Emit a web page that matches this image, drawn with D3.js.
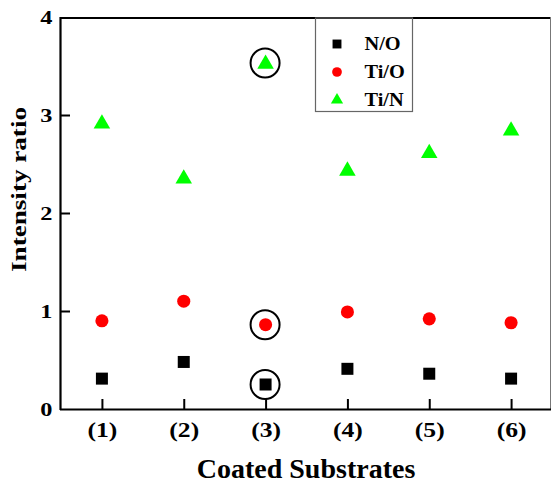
<!DOCTYPE html>
<html>
<head>
<meta charset="utf-8">
<script src="https://cdn.jsdelivr.net/npm/d3@7/dist/d3.min.js"></script>
<style>
  html, body { margin: 0; padding: 0; background: #fff; }
  svg { display: block; }
</style>
</head>
<body>
<svg id="chart" width="552" height="486"></svg>
<script>
// Coated substrate samples (1)–(6)
const substrates = ["(1)", "(2)", "(3)", "(4)", "(5)", "(6)"];
// Intensity ratios per substrate
const ratioNO  = [0.31, 0.48, 0.25, 0.41, 0.36, 0.31];
const ratioTiO = [0.90, 1.10, 0.86, 0.99, 0.92, 0.88];
const ratioTiN = [2.91, 2.35, 3.52, 2.43, 2.61, 2.84];
const yTicks = [0, 1, 2, 3, 4];
// Sample whose points are ringed
const highlighted = 2;

const series = [
  { name: "N/O",  values: ratioNO,  color: "#000000", shape: d3.symbolSquare,   size: 144 },
  { name: "Ti/O", values: ratioTiO, color: "#ff0000", shape: d3.symbolCircle,   size: 135 },
  { name: "Ti/N", values: ratioTiN, color: "#00ff00", shape: d3.symbolTriangle, size: 118 }
];

const FONT = "'Liberation Serif', 'Times New Roman', serif";
const svg = d3.select("#chart");
const plotLeft = 61, plotRight = 552, plotTop = 17, plotBottom = 409;

const x = d3.scaleLinear().domain([0.5, 6.5]).range([plotLeft, plotRight]);
const y = d3.scaleLinear().domain([0, 4]).range([plotBottom, plotTop]);

// Widen a text element horizontally by a factor
function widen(sel, k) {
  sel.each(function () {
    const w = this.getComputedTextLength();
    d3.select(this).attr("textLength", w * k).attr("lengthAdjust", "spacingAndGlyphs");
  });
}
function styleText(sel, size) {
  sel.style("font-family", FONT).style("font-weight", "bold")
    .attr("font-size", size).attr("fill", "#000");
}

// Frame: top and right edges
svg.append("line").attr("x1", plotLeft).attr("x2", 551).attr("y1", plotTop + 1).attr("y2", plotTop + 1)
  .attr("stroke", "#000").attr("stroke-width", 2);
svg.append("line").attr("x1", 550.5).attr("x2", 550.5).attr("y1", plotTop).attr("y2", plotBottom)
  .attr("stroke", "#777").attr("stroke-width", 1);

// Bottom axis with inward ticks
const xAxis = d3.axisBottom(x)
  .tickValues(substrates.map((d, i) => i + 1))
  .tickFormat((d, i) => substrates[i])
  .tickSizeInner(-10).tickSizeOuter(0);
const gx = svg.append("g").attr("transform", `translate(0,${plotBottom})`).call(xAxis);
gx.select(".domain").attr("stroke", "#000").attr("stroke-width", 2.2)
  .attr("d", `M${plotLeft - 1},0.5H${551}`);
gx.selectAll(".tick line").attr("stroke", "#000").attr("stroke-width", 2);
gx.selectAll(".tick text").attr("y", 27.5).attr("dy", null).call(styleText, 20).call(widen, 1.28);

// Left axis with inward ticks
const yAxis = d3.axisLeft(y).tickValues(yTicks).tickFormat(d3.format("d"))
  .tickSizeInner(-9).tickSizeOuter(0);
const gy = svg.append("g").attr("transform", `translate(${plotLeft},0)`).call(yAxis);
gy.select(".domain").attr("stroke", "#000").attr("stroke-width", 2.2)
  .attr("d", `M-0.5,${plotTop}V${plotBottom + 1}`);
gy.selectAll(".tick line").attr("stroke", "#000").attr("stroke-width", 2)
  .filter(d => d === 0 || d === 4).remove();
gy.selectAll(".tick text").attr("x", -8.5).attr("y", 6).attr("dy", null)
  .call(styleText, 19).call(widen, 1.28);

// Axis titles
svg.append("text").attr("x", 306).attr("y", 478)
  .attr("text-anchor", "middle").call(styleText, 28).text("Coated Substrates");
svg.append("text").attr("transform", "translate(26,189.5) rotate(-90)")
  .attr("text-anchor", "middle").call(styleText, 21).text("Intensity ratio")
  .attr("textLength", 165).attr("lengthAdjust", "spacingAndGlyphs");

// Data markers
series.forEach(s => {
  const sym = d3.symbol().type(s.shape).size(s.size);
  svg.append("g").selectAll("path").data(s.values).join("path")
    .attr("d", sym)
    .attr("transform", (d, i) => `translate(${x(i + 1)},${y(d)})`)
    .attr("fill", s.color);
});

// Rings around sample (3)
series.forEach(s => {
  svg.append("circle")
    .attr("cx", x(highlighted + 1) - 0.5)
    .attr("cy", y(s.values[highlighted]) + (s.shape === d3.symbolTriangle ? -1 : 0))
    .attr("r", 14.5)
    .attr("fill", "none").attr("stroke", "#000").attr("stroke-width", 2);
});

// Legend
const lg = svg.append("g");
lg.append("rect").attr("x", 315.5).attr("y", plotTop + 1).attr("width", 97).attr("height", 93.5)
  .attr("fill", "none").attr("stroke", "#666").attr("stroke-width", 1.2);
series.forEach((s, i) => {
  const cy = 44 + i * 28;
  lg.append("path").attr("d", d3.symbol().type(s.shape).size(s.size * 0.55)())
    .attr("transform", `translate(337,${cy})`).attr("fill", s.color);
  lg.append("text").attr("x", 364.5).attr("y", cy + 6).call(styleText, 18).text(s.name)
    .call(widen, 1.13);
});
</script>
</body>
</html>
